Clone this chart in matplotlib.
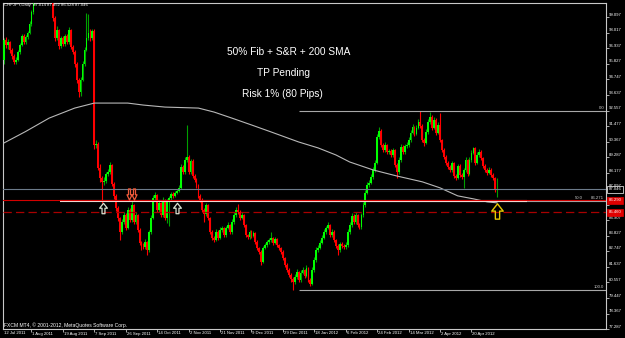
import matplotlib
matplotlib.use("Agg")
import numpy as np
import matplotlib.pyplot as plt
import matplotlib.transforms as mtransforms
from matplotlib.path import Path

plt.rcParams['font.family'] = ['Liberation Sans', 'DejaVu Sans']
plt.rcParams['lines.scale_dashes'] = False

# CHFJPY daily bars (one per trading day, Sunday bars included)
first_open = 96.11
closes = [
    97.50, 97.15, 97.36, 96.81, 96.39, 95.97, 96.11, 96.67, 97.15, 97.78,
    97.36, 97.71, 97.99, 98.62, 99.46, 100.09, 101.35, 102.40, 103.45, 103.10,
    104.84, 105.89, 104.49, 103.10, 101.70, 99.04, 97.64, 98.20, 97.08, 97.64,
    97.22, 97.78, 97.36, 98.20, 97.01, 96.67, 95.83, 94.71, 93.87, 94.71,
    95.83, 96.81, 97.64, 97.99, 97.64, 98.13, 90.16, 90.23, 88.56, 87.86,
    87.58, 87.65, 88.14, 88.28, 88.77, 87.44, 86.60, 85.76, 85.06, 84.08,
    84.78, 85.27, 84.36, 85.62, 84.92, 85.97, 84.78, 85.27, 84.22, 83.31,
    83.10, 83.03, 83.38, 82.83, 84.08, 85.06, 86.46, 86.67, 85.62, 86.11,
    85.27, 86.32, 85.06, 86.18, 86.46, 86.74, 86.60, 86.81, 86.95, 87.16,
    88.63, 88.28, 89.12, 89.33, 88.28, 89.05, 88.00, 87.72, 87.30, 86.60,
    86.32, 85.62, 85.34, 85.97, 85.06, 84.08, 83.66, 83.52, 84.08, 83.66,
    84.22, 84.36, 83.87, 84.36, 84.57, 84.08, 84.78, 85.27, 85.62, 85.48,
    85.06, 85.27, 84.57, 83.87, 83.73, 84.08, 83.80, 84.01, 83.38, 82.96,
    82.69, 81.99, 82.96, 83.17, 83.38, 83.52, 83.66, 83.31, 83.59, 83.17,
    82.96, 82.69, 82.27, 81.78, 81.43, 81.08, 80.80, 80.59, 80.94, 81.29,
    80.73, 81.22, 81.43, 81.01, 81.57, 80.73, 80.45, 81.43, 82.13, 82.83,
    82.96, 83.31, 83.66, 84.08, 84.36, 84.57, 83.87, 84.08, 83.52, 83.10,
    82.83, 83.24, 83.10, 83.03, 83.17, 84.08, 84.57, 85.20, 84.78, 85.27,
    84.57, 84.43, 85.27, 85.97, 86.81, 87.37, 87.51, 87.93, 88.42, 88.91,
    90.72, 91.14, 90.16, 89.81, 90.16, 89.68, 89.74, 89.47, 89.81, 88.77,
    88.28, 89.12, 90.02, 89.68, 90.09, 90.16, 90.51, 91.00, 91.42, 90.93,
    91.35, 91.77, 91.49, 90.51, 90.30, 91.07, 91.77, 92.12, 91.35, 91.91,
    91.00, 91.56, 90.51, 89.81, 89.33, 88.91, 88.63, 88.42, 88.91, 88.00,
    87.86, 88.70, 88.07, 87.93, 88.42, 89.12, 88.14, 89.12, 89.61, 89.95,
    88.91, 89.47, 89.68, 89.26, 88.70, 88.42, 88.21, 88.42, 88.07, 87.86,
    87.01, 87.046,
]
highs = [
    97.65, 97.70, 97.55, 97.45, 96.95, 96.50, 96.30, 96.80, 97.30, 97.90,
    97.95, 97.85, 98.15, 98.80, 99.60, 100.40, 101.60, 102.70, 103.80, 104.00,
    105.20, 106.50, 106.20, 104.80, 103.40, 101.90, 99.20, 98.45, 98.30, 97.80,
    97.80, 97.95, 97.90, 98.40, 98.25, 97.15, 96.80, 95.95, 94.85, 94.90,
    96.00, 97.00, 99.40, 99.30, 98.30, 98.30, 98.25, 90.50, 90.35, 88.80,
    88.00, 87.90, 88.30, 88.45, 89.00, 88.85, 87.55, 86.75, 85.90, 85.15,
    84.95, 85.45, 85.40, 85.80, 85.75, 86.30, 86.05, 85.45, 85.35, 84.35,
    83.45, 83.30, 83.55, 83.45, 84.20, 85.25, 86.65, 86.85, 86.75, 86.30,
    86.20, 86.50, 86.40, 86.35, 86.60, 86.90, 86.85, 86.95, 87.10, 87.35,
    88.80, 88.75, 89.30, 91.56, 89.45, 89.20, 89.15, 88.15, 87.85, 87.40,
    86.75, 86.45, 85.75, 86.10, 86.05, 85.15, 84.20, 83.80, 84.25, 84.20,
    84.40, 84.50, 84.45, 84.50, 84.75, 84.65, 84.95, 85.45, 85.80, 86.00,
    85.60, 85.45, 85.35, 84.65, 83.95, 84.20, 84.20, 84.15, 84.10, 83.50,
    83.05, 82.80, 83.10, 83.30, 83.50, 83.65, 84.08, 83.75, 83.75, 83.65,
    83.25, 83.05, 82.80, 82.35, 81.90, 81.55, 81.20, 80.90, 81.10, 81.45,
    81.35, 81.40, 81.60, 81.50, 81.75, 81.65, 80.85, 81.60, 82.30, 83.00,
    83.15, 83.50, 83.85, 84.25, 84.50, 84.78, 84.65, 84.30, 84.20, 83.60,
    83.20, 83.40, 83.35, 83.25, 83.35, 84.25, 84.75, 85.40, 85.30, 85.45,
    85.35, 84.70, 85.40, 86.15, 87.00, 87.55, 87.70, 88.10, 88.60, 89.10,
    90.90, 91.42, 91.25, 90.30, 90.35, 90.25, 89.90, 89.85, 89.95, 89.90,
    88.90, 89.30, 90.20, 90.15, 90.25, 90.35, 90.70, 91.20, 91.60, 91.50,
    91.55, 91.95, 92.56, 91.60, 90.65, 91.25, 91.95, 92.45, 92.25, 92.10,
    92.05, 91.75, 92.40, 90.60, 89.95, 89.45, 89.05, 88.75, 89.05, 89.00,
    88.15, 88.85, 88.80, 88.20, 88.55, 89.30, 89.20, 89.30, 89.80, 90.02,
    90.05, 89.65, 89.85, 89.80, 89.35, 88.80, 88.55, 88.60, 88.55, 88.20,
    87.95, 87.852,
]
lows = [
    95.80, 96.95, 96.90, 96.60, 96.20, 95.80, 95.85, 96.00, 96.55, 97.05,
    97.20, 97.25, 97.60, 97.90, 98.50, 99.30, 99.95, 101.10, 102.20, 102.80,
    102.90, 104.50, 104.10, 102.70, 101.40, 98.80, 97.40, 97.50, 96.90, 96.95,
    97.05, 97.10, 97.20, 97.25, 96.85, 96.50, 95.60, 94.50, 93.50, 93.55,
    94.60, 95.70, 96.70, 97.50, 97.45, 97.50, 89.90, 89.95, 88.40, 87.60,
    86.13, 87.35, 87.50, 88.00, 88.15, 87.30, 86.40, 85.55, 84.85, 83.52,
    83.95, 84.65, 84.20, 84.25, 84.75, 84.80, 84.60, 84.65, 84.05, 83.15,
    82.83, 82.85, 82.90, 82.48, 82.70, 83.95, 84.95, 86.30, 85.45, 85.50,
    85.10, 85.15, 84.90, 84.70, 84.50, 86.30, 86.45, 86.50, 86.70, 86.85,
    87.05, 88.10, 88.15, 88.95, 88.10, 88.15, 87.85, 87.55, 87.15, 86.45,
    86.15, 85.45, 84.78, 85.20, 84.90, 83.90, 83.50, 83.38, 83.45, 83.50,
    83.55, 84.10, 83.70, 83.75, 84.25, 83.95, 83.95, 84.65, 85.15, 85.30,
    84.90, 84.95, 84.40, 83.70, 83.55, 83.60, 83.65, 83.70, 83.20, 82.80,
    82.50, 81.78, 81.90, 82.85, 83.05, 83.25, 83.40, 83.15, 83.20, 83.00,
    82.80, 82.55, 82.10, 81.60, 81.25, 80.90, 80.60, 79.99, 80.45, 80.80,
    80.55, 80.60, 81.10, 80.85, 80.90, 80.55, 80.30, 80.35, 81.30, 82.00,
    82.70, 82.85, 83.20, 83.55, 83.95, 84.25, 83.70, 83.75, 83.35, 82.95,
    82.45, 82.70, 82.95, 82.90, 82.90, 83.05, 83.95, 84.45, 84.60, 84.65,
    84.40, 84.25, 84.30, 85.15, 85.85, 86.70, 87.25, 87.40, 87.80, 88.30,
    88.80, 90.55, 90.00, 89.65, 89.70, 89.50, 89.55, 89.30, 89.35, 88.60,
    87.85, 88.15, 89.00, 89.55, 89.55, 89.95, 90.05, 90.40, 90.90, 90.80,
    90.85, 91.25, 91.35, 90.35, 90.10, 90.20, 90.95, 91.65, 91.20, 91.25,
    90.85, 90.90, 90.35, 89.65, 89.15, 88.75, 88.45, 88.25, 88.30, 87.85,
    87.70, 87.75, 87.90, 87.75, 87.15, 88.30, 88.00, 88.05, 89.00, 89.50,
    88.75, 88.80, 89.35, 89.10, 88.55, 88.25, 88.05, 88.10, 87.90, 87.70,
    86.85, 86.528,
]

# 200 SMA vertices (bar index, price)
sma_bars = [0, 11, 23, 36, 46, 63, 71, 82, 99, 107, 116, 126, 136, 150, 160,
            169, 176, 188, 200, 213, 222, 231, 239, 246, 251]
sma_vals = [90.30, 91.10, 92.04, 92.74, 93.09, 93.09, 92.95, 92.81, 92.74, 92.46,
            92.04, 91.56, 91.07, 90.37, 89.95, 89.46, 88.97, 88.41, 87.99, 87.58,
            87.16, 86.60, 86.39, 86.18, 86.11]

# levels
bid_price = 87.046
sr_level = 86.29
stop_level = 85.46
fib_high = 92.56
fib_low = 79.99
fib_mid = 86.271
fib_start = 150      # bar where the fib levels start
sr_start, sr_end = 28.5, 266.3

price_ticks = [99.097, 98.017, 96.937, 95.827, 94.747, 93.637, 92.557, 91.477,
               90.367, 89.287, 88.177, 87.097, 85.987, 84.907, 83.827, 82.747,
               81.637, 80.557, 79.447, 78.367, 77.287]
date_labels = ["1 Aug 2011", "19 Aug 2011", "7 Sep 2011", "26 Sep 2011",
               "14 Oct 2011", "2 Nov 2011", "21 Nov 2011", "9 Dec 2011",
               "29 Dec 2011", "18 Jan 2012", "6 Feb 2012", "24 Feb 2012",
               "14 Mar 2012", "2 Apr 2012", "20 Apr 2012"]
date_ticks = [14 + 16 * k for k in range(len(date_labels))]

# arrow objects (bar index, price)
up_arrows = [(50.4, 85.78), (88.3, 85.78)]
down_arrows = [(63.6, 86.74), (66.2, 86.74)]
entry_arrow = (251, 85.55)

fig = plt.figure(figsize=(6.25, 3.38), dpi=100, facecolor='black')
ax = fig.add_axes([3 / 625, 9 / 338, 603 / 625, 326 / 338], facecolor='black')
ax.set_xlim(-0.5, 306.5)
ax.set_ylim(77.30, 100.09)

# candles
C = np.array(closes)
O = np.array([first_open] + closes[:-1])
O[-1] = 87.014
H = np.array(highs)
L = np.array(lows)
idx = np.arange(len(C))
bull = C >= O
ax.vlines(idx, L, H, colors=list(np.where(bull, '#00a000', '#ff0000')), lw=0.8, zorder=2)
bottom = np.minimum(O, C)
height = np.maximum(np.abs(C - O), 0.04)
ax.bar(idx, height, bottom=bottom, width=0.92,
       color=list(np.where(bull, '#00ff00', '#ff0000')), lw=0, zorder=3)

# moving average
ax.plot(sma_bars, sma_vals, color='#b8b8b8', lw=0.8, zorder=4)

# horizontal lines
ax.axhline(bid_price, color='#6c7a8a', lw=0.8, zorder=5)
ax.hlines([fib_high, fib_low, fib_mid], fib_start, 306.5, color='#a8a8a8', lw=0.8, zorder=4)
ax.hlines(sr_level - 0.05, sr_start, sr_end, color='#f2e2da', lw=1.5, zorder=5)
ax.axhline(sr_level, color='#d40000', lw=0.8, zorder=6)
ax.axhline(stop_level, color='#a80000', lw=0.9, dashes=(6, 3), zorder=5)

# arrows (hollow, like the MT4 arrow objects)
up_path = Path([(-0.28, -1), (0.28, -1), (0.28, 0.05), (0.75, 0.05), (0, 1),
                (-0.75, 0.05), (-0.28, 0.05), (-0.28, -1)], closed=True)
down_path = Path([(-0.18, 1), (0.18, 1), (0.18, -0.05), (0.45, -0.05), (0, -1),
                  (-0.45, -0.05), (-0.18, -0.05), (-0.18, 1)], closed=True)
for bx, by in up_arrows:
    ax.plot(bx, by, marker=up_path, ms=7.5, mfc='none', mec='#d8e0d0', mew=0.9, zorder=7)
for bx, by in down_arrows:
    ax.plot(bx, by, marker=down_path, ms=8, mfc='none', mec='#f05a3a', mew=0.9, zorder=7)
ax.plot(entry_arrow[0], entry_arrow[1], marker=up_path, ms=11, mfc='none',
        mec='#e8c800', mew=1.0, zorder=7)

# frame and ticks
for s in ax.spines.values():
    s.set_color('#c8c8c8')
    s.set_linewidth(0.8)
ax.set_yticks(price_ticks)
ax.set_xticks(date_ticks)
ax.tick_params(axis='y', left=False, right=True, length=2, width=0.6, color='#c8c8c8',
               labelleft=False, labelright=False)
ax.tick_params(axis='x', length=2, width=0.6, color='#c8c8c8', labelbottom=False)

small = 3.1
ytr = mtransforms.offset_copy(ax.get_yaxis_transform(), fig=fig, x=3, y=2.5, units='dots')
for v in price_ticks:
    ax.text(1.0, v, f"{v:.3f}", transform=ytr, ha='left', va='center',
            fontsize=small, color='white', clip_on=False)

box_tr = mtransforms.offset_copy(ax.get_yaxis_transform(), fig=fig, x=3, y=0, units='dots')
ax.text(1.0, bid_price, "87.046", transform=box_tr, ha='left', va='center', fontsize=small,
        color='white', zorder=10, clip_on=False,
        bbox=dict(boxstyle='square,pad=0.35', fc='black', ec='white', lw=0.5))
for lvl in [sr_level, stop_level]:
    ax.text(1.0, lvl, f"{lvl:.3f}", transform=box_tr, ha='left', va='center', fontsize=small,
            color='white', zorder=10, clip_on=False,
            bbox=dict(boxstyle='square,pad=0.35', fc='#e00000', ec='#e00000', lw=0.5))

xtr = mtransforms.offset_copy(ax.get_xaxis_transform(), fig=fig, x=1, y=-4.5, units='dots')
ax.text(-0.5, 0, "12 Jul 2011", transform=xtr, ha='left', va='center',
        fontsize=small, color='white', clip_on=False)
for pos, lab in zip(date_ticks, date_labels):
    ax.text(pos, 0, lab, transform=xtr, ha='left', va='center',
            fontsize=small, color='white', clip_on=False)

# fib level captions
ftr = mtransforms.offset_copy(ax.get_yaxis_transform(), fig=fig, x=0, y=1, units='dots')
ax.text(0.997, fib_high, "0.0", transform=ftr, ha='right', va='bottom', fontsize=small, color='#d0d0d0')
ax.text(0.997, fib_low, "100.0", transform=ftr, ha='right', va='bottom', fontsize=small, color='#d0d0d0')
ax.text(0.997, fib_mid, "86.271", transform=ftr, ha='right', va='bottom', fontsize=small, color='#d0d0d0')
ax.text(0.948, fib_mid, "50.0", transform=ftr, ha='left', va='bottom', fontsize=small, color='#d0d0d0')

# chart captions
ax.text(0.002, 0.994, "CHFJPY,Daily  87.014 87.852 86.528 87.046", transform=ax.transAxes,
        ha='left', va='center', fontsize=small, color='white')
ax.text(0.002, 0.012, "FXCM MT4, \u00a9 2001-2012, MetaQuotes Software Corp.", transform=ax.transAxes,
        ha='left', va='center', fontsize=3.6, color='white')
ax.text(0.474, 0.850, "50% Fib + S&R + 200 SMA", transform=ax.transAxes,
        ha='center', va='center', fontsize=7.3, color='white')
ax.text(0.466, 0.785, "TP Pending", transform=ax.transAxes,
        ha='center', va='center', fontsize=7.3, color='white')
ax.text(0.463, 0.721, "Risk 1% (80 Pips)", transform=ax.transAxes,
        ha='center', va='center', fontsize=7.3, color='white')

fig.savefig("out.png", dpi=100, facecolor='black')
